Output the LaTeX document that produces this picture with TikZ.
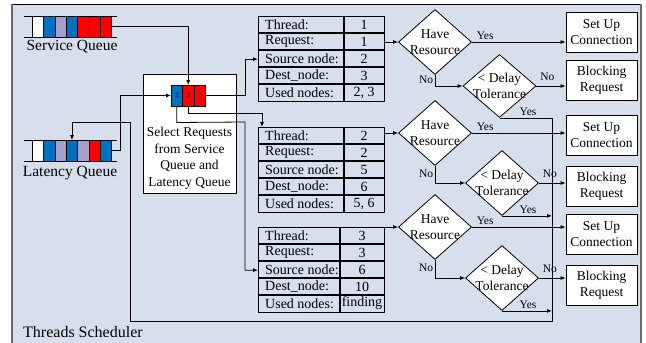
\documentclass[tikz,border=0pt]{standalone}
\usepackage{fontspec}
\setmainfont{Liberation Serif}
\usetikzlibrary{arrows.meta,shapes.geometric,calc}
\definecolor{bgc}{RGB}{214,223,235}
\definecolor{qblue}{RGB}{0,112,192}
\definecolor{qred}{RGB}{255,0,0}
\definecolor{qlav}{RGB}{166,160,200}
\definecolor{fgray}{RGB}{105,105,105}
\newcommand\mktable[8]{%
  \node[tbl, anchor=north west] (#1) at (258,#2) {};
  \foreach \k in {1,2,3,4} \draw[tblline] (258,#2+17*\k) -- (384,#2+17*\k);
  \draw[tblline] (#3,#2) -- (#3,#2+85);
  \node[tkey] (#1k1) at (265,#2+8.5) {Thread:};
  \node[tkey] (#1k2) at (265,#2+25.5) {Request:};
  \node[tkey] (#1k3) at (265,#2+42.5) {Source node:};
  \node[tkey] (#1k4) at (265,#2+59.5) {Dest\_node:};
  \node[tkey] (#1k5) at (265,#2+76.5) {Used nodes:};
  \node[tval] (#1v1) at ({(#3+384)/2},#2+8.5) {#4};
  \node[tval] (#1v2) at ({(#3+384)/2},#2+25.5) {#5};
  \node[tval] (#1v3) at ({(#3+384)/2},#2+42.5) {#6};
  \node[tval] (#1v4) at ({(#3+384)/2},#2+59.5) {#7};
  \node[tval] (#1v5) at ({(#3+384)/2},#2+76.5) {#8};
}
\begin{document}
\begin{tikzpicture}[x=1pt,y=-1pt,
  conn/.style={draw, line width=0.8pt},
  arr/.style={conn, -{Latex[length=5pt,width=4pt]}},
  cell/.style={draw, line width=0.8pt, minimum width=11.33, minimum height=21, inner sep=0, outer sep=0},
  txt/.style={font=\fontsize{14}{16}\selectfont},
  qlbl/.style={font=\fontsize{15.5}{18}\selectfont, inner sep=0},
  lbl/.style={font=\fontsize{11.5}{13}\selectfont, inner sep=1.5},
  tbl/.style={draw, line width=1.3pt, minimum width=126, minimum height=85, inner sep=0},
  tblline/.style={draw, line width=1.1pt},
  tkey/.style={txt, anchor=west, inner sep=0},
  tval/.style={txt, inner sep=0},
  dmd/.style={diamond, draw, fill=white, line width=0.8pt, minimum width=73, minimum height=65, inner sep=0},
  dtext/.style={font=\fontsize{13.5}{16}\selectfont, align=center, inner sep=0},
  box/.style={draw, fill=white, line width=0.8pt, minimum width=71, minimum height=40, inner sep=1, align=center, font=\fontsize{13.5}{16}\selectfont},
  ttl/.style={font=\fontsize{16}{19}\selectfont, inner sep=0}
]
\useasboundingbox (0,0) rectangle (646,343);
% frame
\fill[bgc] (12,4) rectangle (641,343);
\draw[line width=0.8pt] (12,4) -- (641,4);
\draw[fgray, line width=2pt] (12,4) -- (12,343);
\draw[fgray, line width=2pt] (641,4) -- (641,343);
\node[ttl, anchor=west] (title) at (23,332) {Threads Scheduler};

% service queue
\draw[conn] (24,16) -- (117,16);
\draw[conn] (24,37) -- (117,37);
\foreach \c [count=\i] in {white,qblue,qlav,qblue,qred,qred,qred}
  \node[cell, fill=\c] (sq\i) at ({26.67+11.33*\i},26.5) {};
\node[qlbl] (sqlabel) at (72,47) {Service Queue};

% latency queue
\draw[conn] (24,140) -- (117,140);
\draw[conn] (24,161) -- (117,161);
\foreach \c [count=\i] in {white,qblue,qlav,qblue,qlav,qred,qblue}
  \node[cell, fill=\c] (lq\i) at ({26.67+11.33*\i},150.5) {};
\node[qlbl] (lqlabel) at (70,173) {Latency Queue};

% select box
\node[draw, fill=white, line width=0.8pt, minimum width=93, minimum height=119, inner sep=0] (sel) at (189.5,133.5) {};
\node[cell, fill=qblue, minimum width=11.5, font=\fontsize{7}{8}\selectfont] (c3) at (176.75,95.5) {3};
\node[cell, fill=qred, minimum width=11.5, font=\fontsize{7}{8}\selectfont] (c2) at (188.25,95.5) {2};
\node[cell, fill=qred, minimum width=11.5, font=\fontsize{7}{8}\selectfont] (c1) at (199.75,95.5) {1};
\node[font=\fontsize{13.5}{16.5}\selectfont, align=center, inner sep=0] (seltext) at (189.5,158.5)
  {Select Requests\\from Service\\Queue and\\Latency Queue};

% tables
\mktable{ta}{16}{344}{1}{1}{2}{3}{2, 3}
\mktable{tb}{127}{344}{2}{2}{5}{6}{5, 6}
\mktable{tc}{227}{340}{3}{3}{6}{10}{finding}

% diamonds
\node[dmd, label={[dtext]center:{Have\\Resource}}] (hr1) at (435,42) {};
\node[dmd, label={[dtext]center:{Have\\Resource}}] (hr2) at (435,133) {};
\node[dmd, label={[dtext]center:{Have\\Resource}}] (hr3) at (435,227) {};
\node[dmd, minimum height=63, label={[dtext]center:{< Delay\\Tolerance}}] (dt1) at (499.5,86) {};
\node[dmd, label={[dtext]center:{< Delay\\Tolerance}}] (dt2) at (502,183) {};
\node[dmd, label={[dtext]center:{< Delay\\Tolerance}}] (dt3) at (502,278) {};

% result boxes
\node[box] (su1) at (601.5,32.5) {Set Up\\Connection};
\node[box] (br1) at (601.5,80) {Blocking\\Request};
\node[box] (su2) at (601.5,135) {Set Up\\Connection};
\node[box] (br2) at (601.5,186.5) {Blocking\\Request};
\node[box] (su3) at (601.5,234) {Set Up\\Connection};
\node[box] (br3) at (601.5,285) {Blocking\\Request};

% queue connectors
\draw[arr] (sq7.east) -| (c2.north);
\draw[arr] (lq7.east) -- ++(8.5,0) |- (c3.west);
\draw[arr] (c1.east) -- (245,95.5) |- (ta.west);
\draw[arr] (c2.south) -- ++(0,7.5) -| ($(tb.north west)+(4,0)$);
\draw[arr] (c3.south) -- ++(0,16.5) -- (245,122) |- (tc.west);

% table -> have resource
\draw[arr] (hr1.west -| ta.east) -- (hr1.west);
\draw[arr] (hr2.west -| tb.east) -- (hr2.west);
\draw[arr] (hr3.west -| tc.east) -- (hr3.west);

% have resource -> set up / delay
\foreach \n in {1,2,3}{
  \draw[arr] (hr\n.east) -- (hr\n.east -| su\n.west)
     node[lbl, pos=0, anchor=south west, xshift=3pt] {Yes};
  \draw[arr] (hr\n.south) |- (dt\n.west)
     node[lbl, pos=0.22, anchor=east] {No};
  \draw[arr] (dt\n.east) -- (dt\n.east -| br\n.west)
     node[lbl, pos=0, anchor=south west, xshift=2pt, yshift=3pt] {No};
}

% feedback to latency queue
\coordinate (fb1) at (552,321);
\coordinate (fb2) at (130,122);
\draw[arr] (dt1.south) -| (fb1) -| (fb2) -| (lq4.north);
\draw[arr] (dt2.south) -- (dt2.south -| fb1);
\draw[arr] (dt3.south) -- (dt3.south -| fb1);
\node[lbl, anchor=south] (y1) at (528,117.5) {Yes};
\node[lbl, anchor=south] (y2) at (528,215.5) {Yes};
\node[lbl, anchor=south] (y3) at (528,310) {Yes};
\end{tikzpicture}
\end{document}
